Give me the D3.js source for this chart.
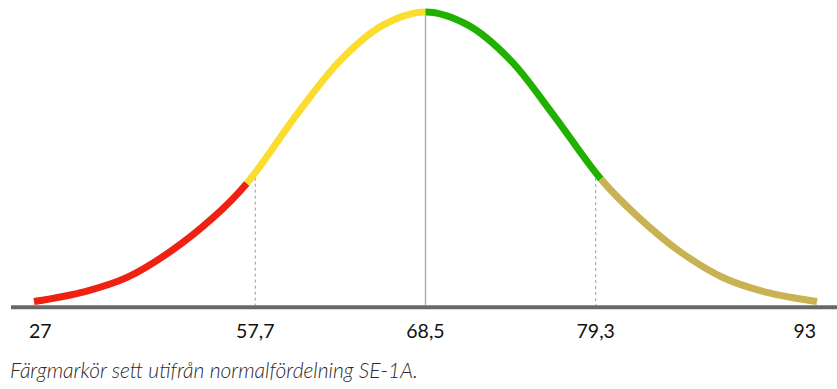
<!DOCTYPE html>
<html>
<head>
<meta charset="utf-8">
<script src="https://cdn.jsdelivr.net/npm/d3@7"></script>
<style>
  html, body { margin: 0; padding: 0; background: #fff; }
  svg { display: block; }
</style>
</head>
<body>
<svg id="chart" width="837" height="389"></svg>
<script>
// Curve samples: position in standard deviations and relative height (peak = 1)
const curveZ = [-2.3, -2.0, -1.75, -1.5, -1.25, -1.05, -0.75, -0.5, -0.25, 0, 0.25, 0.5, 0.75, 1.03, 1.25, 1.5, 1.75, 2.0, 2.3];
const curveH = [0.012, 0.046, 0.095, 0.182, 0.297, 0.415, 0.655, 0.835, 0.955, 1.0, 0.955, 0.835, 0.65, 0.43, 0.3, 0.18, 0.093, 0.044, 0.012];

// Colour segments (break points in SD units)
const segmentBreaks = [-2.3, -1.05, 0, 1.03, 2.3];
const segmentColors = ["#EE2112", "#FCDC2E", "#20B100", "#C8B253"];

// Axis tick labels and their positions (SD units)
const tickZ = [-2.3, -1, 0, 1, 2.3];
const tickLabels = ["27", "57,7", "68,5", "79,3", "93"];

// Dashed reference lines (±1 SD) and the mean line
const dashedZ = [-1, 1];
const meanZ = 0;

const caption = "Färgmarkör sett utifrån normalfördelning SE-1A.";

const svg = d3.select("#chart");

const x = d3.scaleLinear().domain([-2.3, 2.3]).range([34, 817]);
const y = d3.scaleLinear().domain([0, 1]).range([305, 12]);
const hInterp = d3.scaleLinear().domain(curveZ).range(curveH);

const points = curveZ.map((z, i) => ({ z, h: curveH[i] }));
const line = d3.line().x(d => x(d.z)).y(d => y(d.h)).curve(d3.curveCatmullRom.alpha(0.5));

// Baseline
svg.append("line")
  .attr("x1", 11).attr("x2", 837)
  .attr("y1", 307.3).attr("y2", 307.3)
  .attr("stroke", "#686868").attr("stroke-width", 4);

// Dashed lines
svg.selectAll("line.dash").data(dashedZ).enter().append("line")
  .attr("class", "dash")
  .attr("x1", d => x(d)).attr("x2", d => x(d))
  .attr("y1", d => y(hInterp(d)))
  .attr("y2", 305)
  .attr("stroke", "#9a9a9a").attr("stroke-width", 1)
  .attr("stroke-dasharray", "3,3");

// Mean line
svg.append("line")
  .attr("x1", x(meanZ)).attr("x2", x(meanZ))
  .attr("y1", y(hInterp(meanZ)) - 3).attr("y2", 305)
  .attr("stroke", "#a8a8a8").attr("stroke-width", 1.3);

// Curve: one smooth path, shown in coloured pieces via dash arrays
const dPath = line(points);
const probe = svg.append("path").attr("d", dPath).attr("fill", "none").attr("stroke", "none");
const node = probe.node();
const total = node.getTotalLength();
function lengthAtX(px) {
  let lo = 0, hi = total;
  for (let k = 0; k < 40; k++) {
    const mid = (lo + hi) / 2;
    if (node.getPointAtLength(mid).x < px) lo = mid; else hi = mid;
  }
  return (lo + hi) / 2;
}
const breakLen = segmentBreaks.map((b, i) =>
  i === 0 ? 0 : (i === segmentBreaks.length - 1 ? total : lengthAtX(x(b))));
probe.remove();

for (let s = 0; s < segmentColors.length; s++) {
  const a = breakLen[s], b = breakLen[s + 1];
  svg.append("path")
    .attr("d", dPath)
    .attr("fill", "none")
    .attr("stroke", segmentColors[s])
    .attr("stroke-width", 7)
    .attr("stroke-linecap", "butt")
    .attr("stroke-dasharray", `0,${a},${b - a},${total + 10}`);
}

// Tick labels
svg.selectAll("text.tick").data(tickZ).enter().append("text")
  .attr("class", "tick")
  .attr("x", (d, i) => i === 0 ? x(d) - 5 : (i === tickZ.length - 1 ? x(d) - 1 : x(d)))
  .attr("y", 338)
  .attr("text-anchor", (d, i) => i === 0 ? "start" : (i === tickZ.length - 1 ? "end" : "middle"))
  .attr("font-family", "Lato, sans-serif")
  .attr("font-size", 19.5)
  .attr("fill", "#111")
  .text((d, i) => tickLabels[i]);

// Caption
svg.append("text")
  .attr("x", 10).attr("y", 378)
  .attr("font-family", "Lato, sans-serif")
  .attr("font-style", "italic")
  .attr("font-weight", 300)
  .attr("font-size", 21)
  .attr("fill", "#2a2a2a")
  .text(caption);
</script>
</body>
</html>
